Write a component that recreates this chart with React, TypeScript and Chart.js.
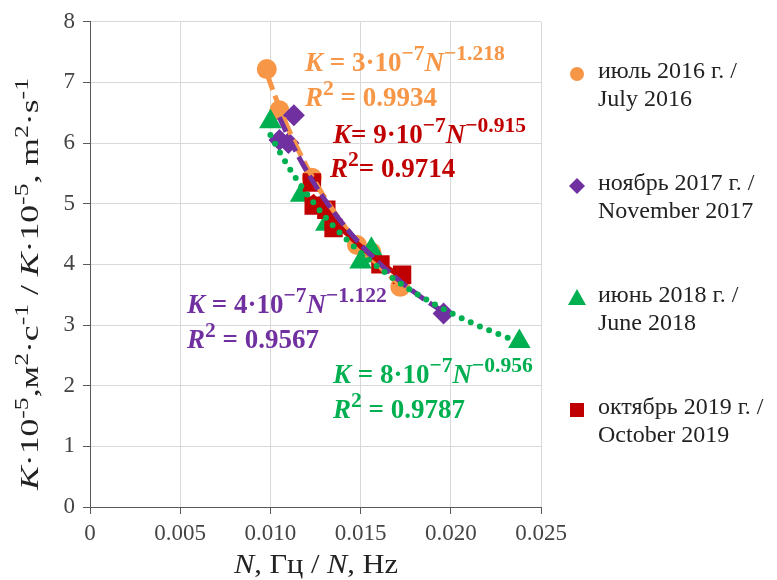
import React, { useEffect, useRef } from "react";
import { Chart, registerables } from "chart.js";
Chart.register(...registerables);

// ---- data (N in Hz, K in 10^-5 m^2/s) ----
const julyN = [0.0098, 0.0105, 0.0123, 0.0148, 0.0156, 0.0172];
const julyK = [7.22, 6.54, 5.43, 4.32, 4.2, 3.63];
const novN = [0.0113, 0.0105, 0.011, 0.0196];
const novK = [6.46, 6.05, 6.0, 3.19];
const junN = [0.01, 0.0117, 0.0131, 0.015, 0.0156, 0.0238];
const junK = [6.35, 5.14, 4.66, 4.04, 4.25, 2.73];
const octN = [0.0123, 0.0124, 0.0131, 0.0135, 0.0161, 0.0173];
const octK = [5.35, 4.97, 4.9, 4.6, 4.0, 3.83];

const seriesLabels = [
  ["июль 2016 г. /", "July 2016"],
  ["ноябрь 2017 г. /", "November 2017"],
  ["июнь 2018 г. /", "June 2018"],
  ["октябрь 2019 г. /", "October 2019"],
];
const seriesColors = ["#F79646", "#7030A0", "#00B050", "#C00000"];
const seriesMarkers = ["circle", "rectRot", "triangle", "rect"];

const eqCoef = ["3", "4", "8", "9"];
const eqExp = ["−1.218", "−1.122", "−0.956", "−0.915"];
const eqR2 = ["0.9934", "0.9567", "0.9787", "0.9714"];

const xTicks = [0, 0.005, 0.01, 0.015, 0.02, 0.025];
const yTicks = [0, 1, 2, 3, 4, 5, 6, 7, 8];

// power-law least squares trendline, like Excel's power trendline
function fitPower(xs: number[], ys: number[]) {
  const n = xs.length;
  let sx = 0, sy = 0, sxx = 0, sxy = 0;
  for (let i = 0; i < n; i++) {
    const lx = Math.log(xs[i]);
    const ly = Math.log(ys[i]);
    sx += lx; sy += ly; sxx += lx * lx; sxy += lx * ly;
  }
  const b = (n * sxy - sx * sy) / (n * sxx - sx * sx);
  const a = Math.exp((sy - b * sx) / n);
  return { a, b };
}
function trend(xs: number[], ys: number[]) {
  const { a, b } = fitPower(xs, ys);
  const lo = Math.min(...xs);
  const hi = Math.max(...xs);
  const pts: { x: number; y: number }[] = [];
  const steps = 40;
  for (let i = 0; i <= steps; i++) {
    const x = lo + ((hi - lo) * i) / steps;
    pts.push({ x, y: a * Math.pow(x, b) });
  }
  return pts;
}
const toPts = (xs: number[], ys: number[]) => xs.map((x, i) => ({ x, y: ys[i] }));

type Seg = { t: string; i?: boolean; sup?: boolean };
const SERIF = '"Liberation Serif", "Times New Roman", serif';

function segFont(s: Seg, size: number, bold: boolean, supScale: number) {
  const sz = s.sup ? size * supScale : size;
  return `${s.i ? "italic " : ""}${bold ? "bold " : ""}${sz}px ${SERIF}`;
}
function richWidth(ctx: CanvasRenderingContext2D, segs: Seg[], size: number, bold: boolean, supScale: number) {
  let w = 0;
  for (const s of segs) {
    ctx.font = segFont(s, size, bold, supScale);
    w += ctx.measureText(s.t).width;
  }
  return w;
}
function drawRich(
  ctx: CanvasRenderingContext2D,
  segs: Seg[],
  x: number,
  y: number,
  size: number,
  bold: boolean,
  color: string,
  align: "left" | "center",
  supScale = 0.72,
  targetWidth = 0
) {
  ctx.save();
  ctx.fillStyle = color;
  ctx.textBaseline = "alphabetic";
  ctx.textAlign = "left";
  const w = richWidth(ctx, segs, size, bold, supScale);
  const hs = targetWidth > 0 ? targetWidth / w : 1;
  ctx.translate(x, y);
  ctx.scale(hs, 1);
  let cx = align === "center" ? -w / 2 : 0;
  for (const s of segs) {
    ctx.font = segFont(s, size, bold, supScale);
    ctx.fillText(s.t, cx, s.sup ? -size * 0.4 : 0);
    cx += ctx.measureText(s.t).width;
  }
  ctx.restore();
}

const yTitle: Seg[] = [
  { t: "K", i: true }, { t: "·10" }, { t: "-5", sup: true }, { t: ",м" }, { t: "2", sup: true },
  { t: "·с" }, { t: "-1", sup: true }, { t: " / " }, { t: "K", i: true }, { t: "·10" },
  { t: "-5", sup: true }, { t: ", m" }, { t: "2", sup: true }, { t: "·s" }, { t: "-1", sup: true },
];
const xTitle: Seg[] = [
  { t: "N", i: true }, { t: ", Гц / " }, { t: "N", i: true }, { t: ", Hz" },
];

const eqPlacement = [
  { s: 0, x: 305, yK: 71, xR: 305, yR: 106, tight: false },
  { s: 3, x: 333, yK: 143, xR: 330, yR: 177, tight: true },
  { s: 1, x: 187, yK: 313, xR: 187, yR: 348, tight: false },
  { s: 2, x: 333, yK: 383, xR: 333, yR: 418, tight: false },
];

const overlay = {
  id: "overlay",
  afterDraw(chart: any) {
    const ctx: CanvasRenderingContext2D = chart.ctx;
    // axis titles
    drawRich(ctx, xTitle, 316, 573, 27, false, "#222", "center", 0.72, 164);
    ctx.save();
    ctx.translate(38, 284);
    ctx.rotate(-Math.PI / 2);
    drawRich(ctx, yTitle, 0, 0, 25, false, "#222", "center", 0.72, 412);
    ctx.restore();

    // equations
    for (const p of eqPlacement) {
      const i = p.s;
      const col = seriesColors[i];
      const eq = p.tight ? "= " : " = ";
      drawRich(ctx, [
        { t: "K", i: true }, { t: `${eq}${eqCoef[i]}·10` }, { t: "−7", sup: true },
        { t: "N", i: true }, { t: eqExp[i], sup: true },
      ], p.x, p.yK, 27, true, col, "left", 0.8);
      drawRich(ctx, [
        { t: "R", i: true }, { t: "2", sup: true }, { t: `${eq}${eqR2[i]}` },
      ], p.xR, p.yR, 27, true, col, "left", 0.8);
    }

    // legend
    const lx = 577;
    const ys = [74, 186, 298, 410];
    for (let i = 0; i < 4; i++) {
      const y = ys[i];
      ctx.save();
      ctx.fillStyle = seriesColors[i];
      ctx.beginPath();
      if (seriesMarkers[i] === "circle") ctx.arc(lx, y, 7, 0, Math.PI * 2);
      else if (seriesMarkers[i] === "rectRot") {
        ctx.moveTo(lx, y - 8); ctx.lineTo(lx + 8, y); ctx.lineTo(lx, y + 8); ctx.lineTo(lx - 8, y);
        ctx.closePath();
      } else if (seriesMarkers[i] === "triangle") {
        ctx.moveTo(lx, y - 9); ctx.lineTo(lx + 9, y + 7); ctx.lineTo(lx - 9, y + 7);
        ctx.closePath();
      } else ctx.rect(lx - 7, y - 7, 14, 14);
      ctx.fill();
      ctx.fillStyle = "#222";
      ctx.font = `24px ${SERIF}`;
      ctx.textBaseline = "middle";
      ctx.textAlign = "left";
      ctx.fillText(seriesLabels[i][0], 598, y - 2);
      ctx.fillText(seriesLabels[i][1], 598, y + 26);
      ctx.restore();
    }
  },
};

export default function App() {
  const ref = useRef<HTMLCanvasElement | null>(null);
  useEffect(() => {
    document.body.style.margin = "0";
    const canvas = ref.current!;
    const pointDs = (i: number, xs: number[], ys: number[], r: number, order: number) => ({
      label: seriesLabels[i].join(" "),
      data: toPts(xs, ys),
      backgroundColor: seriesColors[i],
      borderColor: seriesColors[i],
      borderWidth: 0,
      pointStyle: seriesMarkers[i],
      pointRadius: r,
      showLine: false,
      order,
    });
    const lineDs = (i: number, xs: number[], ys: number[], dash: number[], cap: string, w: number, order: number) => ({
      label: "trend " + i,
      data: trend(xs, ys),
      borderColor: seriesColors[i],
      backgroundColor: seriesColors[i],
      borderWidth: w,
      borderDash: dash,
      borderCapStyle: cap,
      pointRadius: 0,
      showLine: true,
      fill: false,
      tension: 0,
      order,
    });
    const chart = new Chart(canvas, {
      type: "scatter",
      data: {
        datasets: [
          lineDs(2, junN, junK, [0, 10], "round", 6, 0),
          lineDs(1, novN, novK, [16, 6], "butt", 5, 1),
          lineDs(3, octN, octK, [], "butt", 5, 2),
          lineDs(0, julyN, julyK, [18, 6], "butt", 5, 3),
          pointDs(3, octN, octK, 13, 4),
          pointDs(1, novN, novK, 11, 5),
          pointDs(2, junN, junK, 13, 6),
          pointDs(0, julyN, julyK, 10, 7),
        ] as any,
      },
      options: {
        animation: false,
        responsive: false,
        devicePixelRatio: 1,
        layout: { padding: { left: 0, top: 18, right: 236, bottom: 0 } },
        plugins: { legend: { display: false }, tooltip: { enabled: false } },
        scales: {
          x: {
            type: "linear",
            min: 0,
            max: 0.025,
            afterFit: (s: any) => { s.height = 73; },
            afterBuildTicks: (s: any) => { s.ticks = xTicks.map((v) => ({ value: v })); },
            grid: { color: "#d9d9d9", tickColor: "#595959", tickLength: 7, lineWidth: 1 },
            border: { color: "#595959", width: 1 },
            ticks: {
              color: "#444",
              padding: 6,
              font: { family: SERIF, size: 23 },
              maxRotation: 0,
              callback: (v: any) => (v === 0 ? "0" : Number(v).toFixed(3)),
            },
          },
          y: {
            type: "linear",
            min: 0,
            max: 8,
            afterFit: (s: any) => { s.width = 90; },
            afterBuildTicks: (s: any) => { s.ticks = yTicks.map((v) => ({ value: v })); },
            grid: { color: "#d9d9d9", tickColor: "#595959", tickLength: 7, lineWidth: 1 },
            border: { color: "#595959", width: 1 },
            ticks: {
              color: "#444",
              padding: 8,
              font: { family: SERIF, size: 23 },
              callback: (v: any) => String(v),
            },
          },
        },
      } as any,
      plugins: [overlay],
    });
    return () => chart.destroy();
  }, []);
  return (
    <div style={{ width: 777, height: 580, background: "#fff" }}>
      <canvas ref={ref} width={777} height={580} style={{ display: "block" }} />
    </div>
  );
}
